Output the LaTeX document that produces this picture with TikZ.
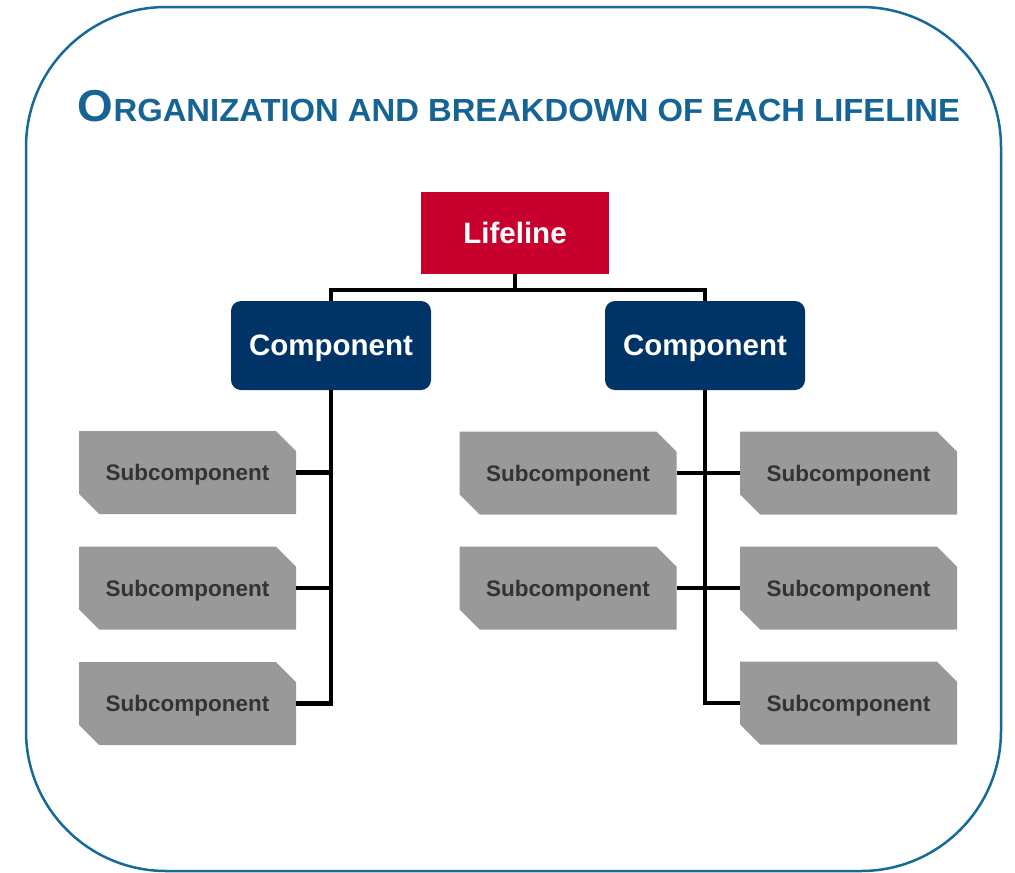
\documentclass[tikz,border=0pt]{standalone}
\usepackage{fontspec}
\setmainfont{Liberation Sans}
\usetikzlibrary{shapes.misc}
\definecolor{framec}{RGB}{23,105,153}
\definecolor{titlec}{RGB}{22,100,148}
\definecolor{lifered}{RGB}{200,0,46}
\definecolor{navy}{RGB}{0,51,102}
\definecolor{subgray}{RGB}{153,153,153}
\definecolor{subtext}{RGB}{51,51,51}
\begin{document}
\begin{tikzpicture}[x=1pt,y=-1pt,
  lifebox/.style={rectangle,fill=lifered,text=white,minimum width=188pt,minimum height=82pt,inner sep=0pt,text depth=0pt,font=\fontsize{29.5}{30}\selectfont\bfseries},
  compbox/.style={rectangle,rounded corners=10pt,fill=navy,text=white,minimum width=200pt,minimum height=89pt,inner sep=0pt,text depth=0pt,font=\fontsize{29.5}{30}\selectfont\bfseries},
  subbox/.style={chamfered rectangle,chamfered rectangle corners={north east,south west},chamfered rectangle xsep=12pt,chamfered rectangle ysep=12pt,fill=subgray,text=subtext,minimum width=217pt,minimum height=83pt,inner sep=0pt,text depth=0pt,font=\fontsize{22.5}{23}\selectfont\bfseries},
  conn/.style={line width=4.2pt,black,line join=miter}]
\useasboundingbox (0,0) rectangle (1015,873);
\draw[framec,line width=2.5pt,rounded corners=140pt] (26,7) rectangle (1001,871);
\node[inner sep=0pt,anchor=base,text=titlec] (title) at (519,121) {\resizebox{882pt}{\height}{\bfseries{\fontsize{44.7}{45}\selectfont O}{\fontsize{32}{32}\selectfont RGANIZATION AND BREAKDOWN OF EACH LIFELINE}}};
\node[lifebox] (life) at (515,233) {Lifeline};
\node[compbox] (compL) at (331,345.5) {Component};
\node[compbox] (compR) at (705,345.5) {Component};
\node[subbox] (l1) at (187.5,472.5) {Subcomponent};
\node[subbox] (l2) at (187.5,588) {Subcomponent};
\node[subbox] (l3) at (187.5,703.5) {Subcomponent};
\node[subbox] (m1) at (568,473) {Subcomponent};
\node[subbox] (m2) at (568,588) {Subcomponent};
\node[subbox] (r1) at (848.5,473) {Subcomponent};
\node[subbox] (r2) at (848.5,588) {Subcomponent};
\node[subbox] (r3) at (848.5,703) {Subcomponent};
\draw[conn] (life.south) -- ++(0,16) coordinate (hub);
\draw[conn] (compL.north) |- (hub) -| (compR.north);
\draw[conn] (compL.south) |- (l3.east);
\draw[conn] (l1.east) -- (l1.east -| compL.south);
\draw[conn] (l2.east) -- (l2.east -| compL.south);
\draw[conn] (compR.south) |- (r3.west);
\draw[conn] (m1.east) -- (r1.west);
\draw[conn] (m2.east) -- (r2.west);
\end{tikzpicture}
\end{document}
